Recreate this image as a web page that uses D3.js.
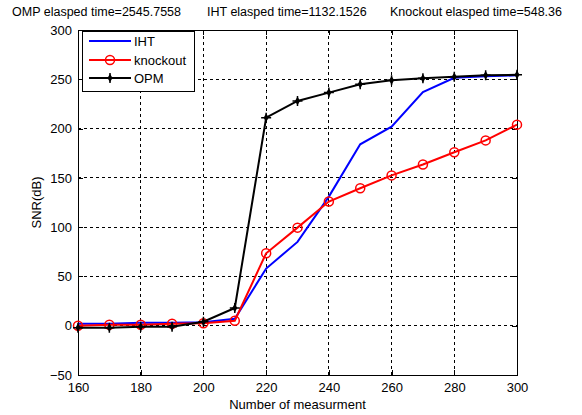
<!DOCTYPE html>
<html><head><meta charset="utf-8">
<script src="https://cdn.jsdelivr.net/npm/d3@7"></script>
<style>body{margin:0;background:#fff;} text{font-family:"Liberation Sans",Arial,sans-serif;}</style>
</head><body>
<svg id="c" width="582" height="415"></svg>
<script>
const xValues = [160,170,180,190,200,210,220,230,240,250,260,270,280,290,300];
const ihtValues = [2,2,3,3,3.5,7,58,85,131,184,202,237,251.5,253,254];
const knockoutValues = [0,1,1,2,2.5,5,73.5,99.5,126,139.5,152.5,163.5,176,188,204];
const opmValues = [-2,-2,-1,-1,4,18,211,228,236.5,245,249,251,252.5,254,254.5];
const xTicks = [160,180,200,220,240,260,280,300];
const yTicks = [-50,0,50,100,150,200,250,300];
const titles = ["OMP elasped time=2545.7558","IHT elasped time=1132.1526","Knockout elasped time=548.36"];

const svg = d3.select("#c");
const L=78, R=517, T=30, B=375;
const x = d3.scaleLinear().domain([160,300]).range([L,R]);
const y = d3.scaleLinear().domain([-50,300]).range([B,T]);

// grid
const g = svg.append("g");
xTicks.forEach(t=>{ if(t>160 && t<300) g.append("line").attr("x1",x(t)).attr("x2",x(t)).attr("y1",T).attr("y2",B).attr("stroke","#000").attr("stroke-width",1).attr("stroke-dasharray","3,3").attr("shape-rendering","crispEdges");});
yTicks.forEach(t=>{ if(t>-50 && t<300) g.append("line").attr("x1",L).attr("x2",R).attr("y1",y(t)).attr("y2",y(t)).attr("stroke","#000").attr("stroke-width",1).attr("stroke-dasharray","3,3").attr("shape-rendering","crispEdges");});

// axes
svg.append("g").attr("transform",`translate(0,${B})`).call(d3.axisBottom(x).tickValues(xTicks).tickSize(-5).tickPadding(8));
svg.append("g").attr("transform",`translate(${L},0)`).call(d3.axisLeft(y).tickValues(yTicks).tickSize(-5).tickPadding(6));
svg.append("g").attr("transform",`translate(0,${T})`).call(d3.axisTop(x).tickValues(xTicks).tickSize(-5).tickFormat(""));
svg.append("g").attr("transform",`translate(${R},0)`).call(d3.axisRight(y).tickValues(yTicks).tickSize(-5).tickFormat(""));
svg.selectAll(".domain").remove();
svg.selectAll(".tick line").attr("stroke","#000").attr("shape-rendering","crispEdges");
svg.selectAll(".tick text").attr("font-size",13).attr("fill","#000").style("font-family","'Liberation Sans',Arial,sans-serif");
svg.append("rect").attr("x",L).attr("y",T).attr("width",R-L).attr("height",B-T).attr("fill","none").attr("stroke","#000").attr("shape-rendering","crispEdges");

const line = d3.line().x((d,i)=>x(xValues[i])).y(d=>y(d));
const series = [
  {name:"IHT", vals:ihtValues, color:"#0000ff", marker:"none"},
  {name:"knockout", vals:knockoutValues, color:"#ff0000", marker:"circle"},
  {name:"OPM", vals:opmValues, color:"#000000", marker:"star"}
];
function drawMarker(sel, type, cx, cy, color){
  if(type==="circle"){
    sel.append("circle").attr("cx",cx).attr("cy",cy).attr("r",4.5).attr("fill","none").attr("stroke",color).attr("stroke-width",1.5);
  } else if(type==="star"){
    sel.append("path").attr("d",`M${cx},${cy-5}L${cx},${cy+5}M${cx-5},${cy}L${cx+5},${cy}`).attr("stroke",color).attr("stroke-width",1.5);
    sel.append("path").attr("d",d3.symbol().type(d3.symbolDiamond).size(22)()).attr("transform",`translate(${cx},${cy})`).attr("fill",color);
  }
}
const pl = svg.append("g");
series.forEach(s=>{
  pl.append("path").datum(s.vals).attr("d",line).attr("fill","none").attr("stroke",s.color).attr("stroke-width",2);
  if(s.marker!=="none") s.vals.forEach((v,i)=>drawMarker(pl,s.marker,x(xValues[i]),y(v),s.color));
});

// legend
const lg = svg.append("g");
lg.append("rect").attr("x",82).attr("y",31).attr("width",112).attr("height",60).attr("fill","#fff").attr("stroke","#000").attr("shape-rendering","crispEdges");
const ly=[41,60,78];
series.forEach((s,i)=>{
  lg.append("line").attr("x1",89).attr("x2",131).attr("y1",ly[i]).attr("y2",ly[i]).attr("stroke",s.color).attr("stroke-width",2);
  if(s.marker!=="none") drawMarker(lg,s.marker,110,ly[i],s.color);
  lg.append("text").attr("x",134).attr("y",ly[i]+4.5).attr("font-size",13).text(s.name);
});

// labels
svg.append("text").attr("x",(L+R)/2).attr("y",409).attr("text-anchor","middle").attr("font-size",13).text("Number of measurment");
svg.append("text").attr("transform",`translate(41,${(T+B)/2}) rotate(-90)`).attr("text-anchor","middle").attr("font-size",13).text("SNR(dB)");
const tx=[12,207,390];
titles.forEach((t,i)=>svg.append("text").attr("x",tx[i]).attr("y",16).attr("font-size",12.5).text(t));
</script>
</body></html>
